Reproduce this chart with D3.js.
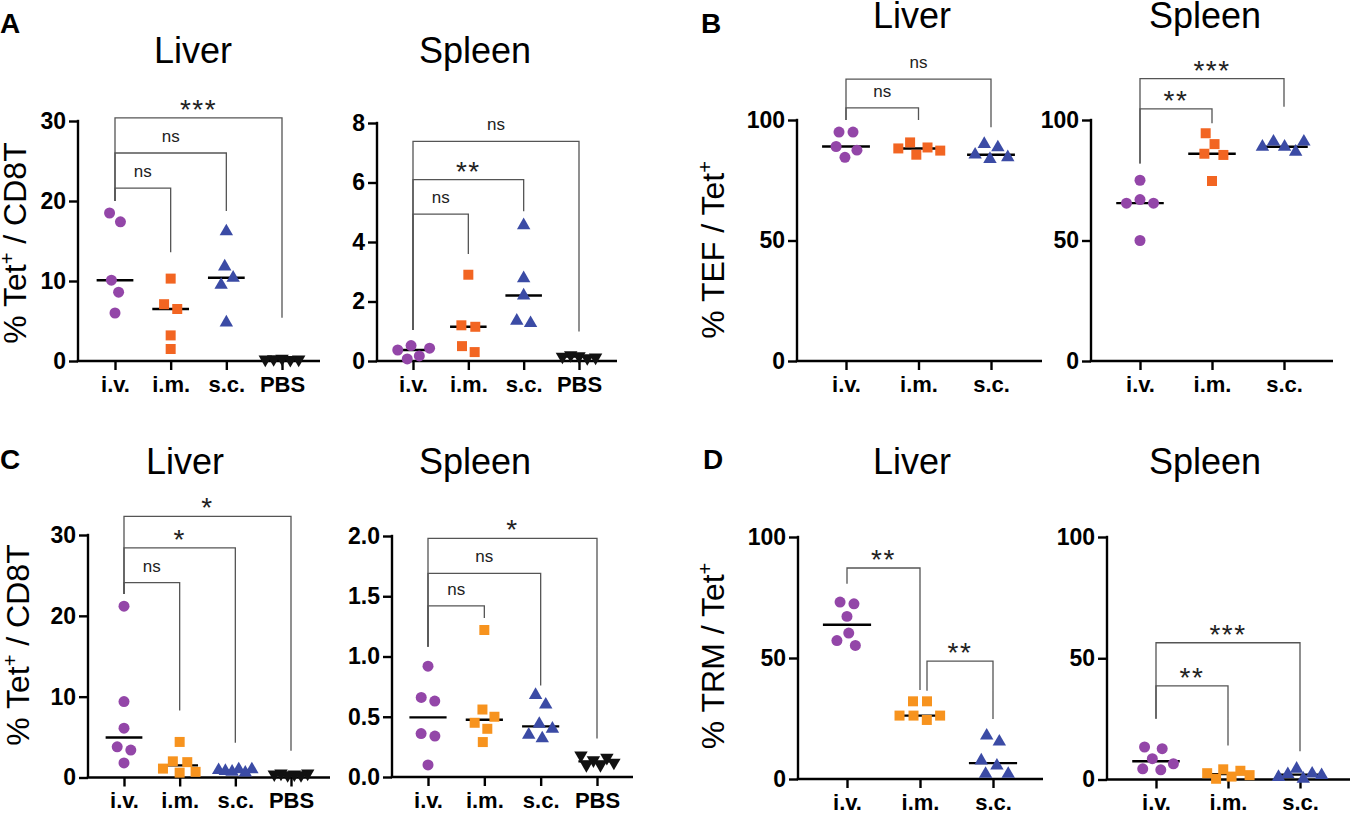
<!DOCTYPE html>
<html>
<head>
<meta charset="utf-8">
<title>Tet+ CD8 T cells by route</title>
<script src="https://d3js.org/d3.v7.min.js"></script>
<style>
  body { margin: 0; background: #fff; }
  text { font-family: "Liberation Sans", Arial, Helvetica, sans-serif; }
</style>
</head>
<body>
<svg width="1351" height="814"></svg>
<script>
// categories
const cats4 = ["i.v.", "i.m.", "s.c.", "PBS"];
const cats3 = ["i.v.", "i.m.", "s.c."];

// tick values
const ticksA1 = [0, 10, 20, 30];
const ticksA2 = [0, 2, 4, 6, 8];
const ticksPct = [0, 50, 100];
const ticksC2 = [0, 0.5, 1.0, 1.5, 2.0];

// values per group (i.v., i.m., s.c., PBS)
const aLiver = [[18.5, 17.4, 10.1, 8.6, 6.0], [10.3, 7.1, 6.5, 3.2, 1.5], [16.2, 11.8, 10.4, 9.5, 4.8], [0.3, 0.25, 0.2, 0.2, 0.15]];
const aSpleen = [[0.52, 0.43, 0.37, 0.17, 0.07], [2.9, 1.2, 1.15, 0.5, 0.3], [4.56, 2.78, 2.2, 1.35, 1.27], [0.2, 0.16, 0.15, 0.12, 0.1]];
const bLiver = [[95, 95, 89, 87.5, 84.5], [90.7, 88.6, 88.2, 87.3, 85.6], [90, 88.6, 85.6, 84.5, 83.8]];
const bSpleen = [[75, 67, 65.5, 65.5, 50], [94.5, 90, 86, 85.5, 74.7], [91, 91, 88.9, 88.9, 86.8]];
const cLiver = [[21.2, 9.4, 6.1, 3.8, 3.4, 1.8], [4.4, 2.0, 1.9, 1.1, 0.7, 0.6], [1.0, 1.0, 0.9, 0.8, 0.7, 0.6], [0.5, 0.5, 0.4, 0.4, 0.3, 0.3]];
const cSpleen = [[0.92, 0.66, 0.63, 0.36, 0.34, 0.1], [1.22, 0.56, 0.5, 0.45, 0.4, 0.29], [0.68, 0.6, 0.44, 0.4, 0.35, 0.32], [0.18, 0.16, 0.14, 0.12, 0.1, 0.1]];
const dLiver = [[73.1, 72.4, 67.2, 60.3, 57.2, 55.2], [32.1, 32.1, 26.2, 26.2, 26.2, 24.4], [17.9, 15.4, 7.6, 5.5, 2.1, 2.1]];
const dSpleen = [[13.4, 12.7, 8.6, 6.5, 4.4, 4.0], [4.2, 3.6, 2.6, 1.8, 1.2, 0.3], [4.4, 2.4, 2.2, 1.8, 1.0, 0.3]];

// significance brackets: [from group, to group, bracket level, left end, right end, label]
const aLiverSig = [[0, 1, 21.6, 20, 13.6, "ns"], [0, 2, 26, 20, 18.75, "ns"], [0, 3, 30.4, 20, 5.4, "***"]];
const aSpleenSig = [[0, 1, 4.94, 1.04, 3.6, "ns"], [0, 2, 6.1, 1.04, 5.03, "**"], [0, 3, 7.38, 1.04, 0.99, "ns"]];
const bLiverSig = [[0, 1, 105, 100, 100, "ns"], [0, 2, 117, 100, 97, "ns"]];
const bSpleenSig = [[0, 1, 104.6, 82, 98.6, "**"], [0, 2, 117.2, 82, 105.5, "***"]];
const cLiverSig = [[0, 1, 24.1, 22.7, 8.3, "ns"], [0, 2, 28.4, 22.7, 4.3, "*"], [0, 3, 32.3, 22.7, 3.3, "*"]];
const cSpleenSig = [[0, 1, 1.42, 1.08, 1.32, "ns"], [0, 2, 1.69, 1.08, 0.76, "ns"], [0, 3, 1.98, 1.08, 0.32, "*"]];
const dLiverSig = [[0, 1, 87.2, 80.7, 36.8, "**"], [1, 2, 48.7, 36.5, 24.8, "**"]];
const dSpleenSig = [[0, 1, 38.6, 25.1, 14.0, "**"], [0, 2, 56.4, 25.1, 11.7, "***"]];

const svg = d3.select("svg");
const purple = "#9346A8", blue = "#3B4BA5", black = "#111";
const orangeRed = "#F26522", orangeYel = "#F7931E";

// panel layout (pixels)
const panels = [
  {title: "Liver", data: aLiver, sig: aLiverSig, cats: cats4, ticks: ticksA1, max: 30, ax: 78, xEnd: 320, top: 121, bottom: 361, c0: 115, c1: 282, tx: 193, ty: 63, orange: orangeRed},
  {title: "Spleen", data: aSpleen, sig: aSpleenSig, cats: cats4, ticks: ticksA2, max: 8, ax: 377, xEnd: 617, top: 123, bottom: 361, c0: 413, c1: 579, tx: 475, ty: 63, orange: orangeRed},
  {title: "Liver", data: bLiver, sig: bLiverSig, cats: cats3, ticks: ticksPct, max: 100, ax: 797, xEnd: 1042, top: 120, bottom: 361, c0: 846, c1: 991, tx: 912, ty: 28, orange: orangeRed},
  {title: "Spleen", data: bSpleen, sig: bSpleenSig, cats: cats3, ticks: ticksPct, max: 100, ax: 1091, xEnd: 1333, top: 120, bottom: 361, c0: 1140, c1: 1284, tx: 1205, ty: 28, orange: orangeRed},
  {title: "Liver", data: cLiver, sig: cLiverSig, cats: cats4, ticks: ticksA1, max: 30, ax: 88, xEnd: 330, top: 535, bottom: 777.5, c0: 124, c1: 291, tx: 185, ty: 474, orange: orangeYel},
  {title: "Spleen", data: cSpleen, sig: cSpleenSig, cats: cats4, ticks: ticksC2, max: 2, fmt: d3.format(".1f"), ax: 392, xEnd: 633, top: 536, bottom: 777, c0: 428, c1: 597, tx: 475, ty: 474, orange: orangeYel},
  {title: "Liver", data: dLiver, sig: dLiverSig, cats: cats3, ticks: ticksPct, max: 100, ax: 798, xEnd: 1043, top: 537, bottom: 779, c0: 847, c1: 993, tx: 912, ty: 474, orange: orangeYel},
  {title: "Spleen", data: dSpleen, sig: dSpleenSig, cats: cats3, ticks: ticksPct, max: 100, ax: 1107, xEnd: 1350, top: 537, bottom: 779.5, c0: 1156, c1: 1300, tx: 1205, ty: 474, orange: orangeYel}
];

// spread the points of one column sideways so they don't overlap,
// then squeeze the column back into a fixed width like a scatter dot plot
function swarm(vals, cx, y, rad, halfWidth) {
  const nodes = vals.map(v => ({v: v, x: cx, y: y(v), fy: y(v)}));
  const sim = d3.forceSimulation(nodes)
      .force("x", d3.forceX(cx).strength(0.08))
      .force("col", d3.forceCollide(rad).iterations(4))
      .stop();
  for (let i = 0; i < 300; i++) sim.tick();
  const spread = d3.max(nodes, d => Math.abs(d.x - cx));
  if (spread > halfWidth) {
    const k = halfWidth / spread;
    nodes.forEach(d => { d.x = cx + (d.x - cx) * k; });
  }
  return nodes;
}

panels.forEach(p => {
  const g = svg.append("g");
  const x = d3.scalePoint().domain(p.cats).range([p.c0, p.c1]);
  const y = d3.scaleLinear().domain([0, p.max]).range([p.bottom, p.top]);
  const step = x.step();

  // y axis
  const yAx = g.append("g")
      .attr("transform", `translate(${p.ax},0)`)
      .call(d3.axisLeft(y).tickValues(p.ticks).tickSize(9).tickPadding(3).tickFormat(p.fmt || d3.format("d")));
  yAx.select(".domain").remove();
  yAx.selectAll(".tick line").attr("stroke", "#000").attr("stroke-width", 2.4);
  yAx.selectAll(".tick text").attr("font-size", 23).attr("font-weight", "bold").attr("fill", "#000")
      .attr("font-family", "'Liberation Sans', Arial, sans-serif");
  g.append("line").attr("x1", p.ax).attr("x2", p.ax).attr("y1", y(p.max) - 1.2).attr("y2", y(0))
      .attr("stroke", "#000").attr("stroke-width", 2.4);

  // x axis
  const xAx = g.append("g")
      .attr("transform", `translate(0,${y(0)})`)
      .call(d3.axisBottom(x).tickSize(9).tickPadding(6));
  xAx.select(".domain").remove();
  xAx.selectAll(".tick line").attr("stroke", "#000").attr("stroke-width", 2.4);
  xAx.selectAll(".tick text").attr("font-size", 22).attr("font-weight", "bold").attr("fill", "#000")
      .attr("font-family", "'Liberation Sans', Arial, sans-serif");
  g.append("line").attr("x1", p.ax - 1.2).attr("x2", p.xEnd).attr("y1", y(0)).attr("y2", y(0))
      .attr("stroke", "#000").attr("stroke-width", 2.4);

  // title
  g.append("text").attr("x", p.tx).attr("y", p.ty).attr("text-anchor", "middle")
      .attr("font-size", 36).text(p.title);

  // brackets
  p.sig.forEach(s => {
    const shared = p.sig.some(o => o[1] === s[0]);
    const xl = x(p.cats[s[0]]) + (shared ? 7 : 0);
    const xr = x(p.cats[s[1]]);
    const yb = y(s[2]);
    g.append("path")
        .attr("d", `M${xl},${y(s[3])}V${yb}H${xr}V${y(s[4])}`)
        .attr("fill", "none").attr("stroke", "#555").attr("stroke-width", 1.3);
    const star = s[5].includes("*");
    g.append("text").attr("x", (xl + xr) / 2).attr("y", star ? yb + 1 : yb - 11)
        .attr("text-anchor", "middle")
        .attr("font-size", star ? 28 : 17)
        .attr("letter-spacing", star ? 1.5 : 0)
        .attr("fill", "#222")
        .text(s[5]);
  });

  // columns
  const colors = [purple, p.orange, blue, black];
  const shapes = [d3.symbolCircle, d3.symbolSquare, d3.symbolTriangle, d3.symbolTriangle];
  const sizes = [95, 100, 78, 78];
  p.data.forEach((vals, i) => {
    const cx = x(p.cats[i]);
    const med = d3.median(vals);
    g.append("line").attr("x1", cx - step * 0.33).attr("x2", cx + step * 0.33)
        .attr("y1", y(med)).attr("y2", y(med)).attr("stroke", "#000").attr("stroke-width", 2.4);
    const nodes = swarm(vals, cx, y, 7, step * 0.3);
    g.selectAll(null).data(nodes).enter().append("path")
        .attr("d", d3.symbol().type(shapes[i]).size(sizes[i]))
        .attr("transform", d => `translate(${d.x},${d.y})` + (i === 3 ? " rotate(180)" : ""))
        .attr("fill", colors[i]);
  });
});

// y axis titles
const yTitles = [
  {x: 26, y: 243, main: "% Tet", sup: "+", rest: " / CD8T"},
  {x: 724, y: 250, main: "% TEF / Tet", sup: "+", rest: ""},
  {x: 29, y: 645, main: "% Tet", sup: "+", rest: " / CD8T"},
  {x: 724, y: 656, main: "% TRM / Tet", sup: "+", rest: ""}
];
yTitles.forEach(t => {
  const tx = svg.append("text")
      .attr("transform", `translate(${t.x},${t.y}) rotate(-90)`)
      .attr("text-anchor", "middle").attr("font-size", 32);
  tx.append("tspan").text(t.main);
  tx.append("tspan").attr("dy", -12).attr("font-size", 20).text(t.sup);
  if (t.rest) tx.append("tspan").attr("dy", 12).text(t.rest);
});

// panel letters
[["A", 0, 33], ["B", 701, 33], ["C", 0, 469], ["D", 703, 469]].forEach(l => {
  svg.append("text").attr("x", l[1]).attr("y", l[2]).attr("font-size", 28)
      .attr("font-weight", "bold").text(l[0]);
});
</script>
</body>
</html>
